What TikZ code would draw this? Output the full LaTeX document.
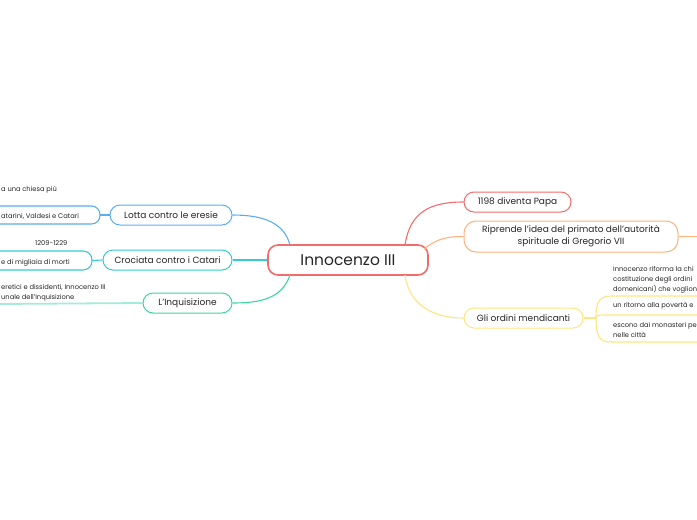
\documentclass[tikz,border=0pt]{standalone}
\usepackage{fontspec}
\setmainfont{Poppins}
\definecolor{cred}{HTML}{F46B6B}
\definecolor{corange}{HTML}{FFB37C}
\definecolor{cyellow}{HTML}{FFE680}
\definecolor{cblue}{HTML}{5AAEF0}
\definecolor{ccyan}{HTML}{35C9D9}
\definecolor{cgreen}{HTML}{3DD6A0}
\definecolor{cteal}{HTML}{A3EBDC}
\definecolor{ctext}{HTML}{262626}
\begin{document}
\begin{tikzpicture}[x=1pt,y=-1pt,
  central/.style={draw=cred,line width=1.6pt,fill=white,rounded corners=10pt,minimum width=160pt,minimum height=30pt,inner sep=0pt,font=\fontsize{15.5}{18}\selectfont,text=ctext},
  topic/.style={line width=1pt,fill=white,rounded corners=10pt,minimum height=20pt,inner sep=0pt,font=\fontsize{9}{12}\selectfont,text=ctext,align=center},
  sub/.style={anchor=west,inner sep=0pt,font=\fontsize{6.7}{10}\selectfont,text=ctext,align=left},
  conn/.style={line width=1.1pt}]
\useasboundingbox (0,0) rectangle (697,520);
\fill[white] (0,0) rectangle (697,520);
\clip (0,0) rectangle (697,520);
% nodes
\node[central] (c) at (348,260) {Innocenzo III};
\node[topic,draw=cred,minimum width=107pt] (p1) at (517.5,202) {1198 diventa Papa};
\node[topic,draw=corange,minimum width=214pt,minimum height=31pt,rounded corners=12pt] (p2) at (571,236.5) {Riprende l’idea del primato dell’autorità\\spirituale di Gregorio VII};
\node[topic,draw=cyellow,minimum width=119pt] (p3) at (523.5,318) {Gli ordini mendicanti};
\node[topic,draw=cblue,minimum width=122pt] (l1) at (171,215) {Lotta contro le eresie};
\node[topic,draw=ccyan,minimum width=129pt] (l2) at (167.5,260) {Crociata contro i Catari};
\node[topic,draw=cgreen,minimum width=89pt] (l3) at (187.5,303) {L’Inquisizione};
% free ends
\coordinate (p2e) at (697,236.5);
\coordinate (yb) at (596,318);
\coordinate (b1) at (100,215);
\coordinate (b2) at (92,260.5);
\coordinate (g1) at (0,304);
% connectors right
\draw[conn,cred] (405,245) .. controls (410,212) and (430,202) .. (p1.west);
\draw[conn,corange] (424,249) .. controls (438,238) and (448,236.5) .. (p2.west);
\draw[conn,corange] (p2.east) -- (p2e);
\draw[conn,cyellow] (405,275) .. controls (410,310) and (440,318) .. (p3.west);
\draw[conn,cyellow] (p3.east) -- (yb);
\draw[conn,cyellow] (yb) .. controls (596,300) and (600,296) .. (612,296) -- (697,296);
\draw[conn,cyellow] (yb) .. controls (597,315) .. (607,315) -- (697,315);
\draw[conn,cyellow] (yb) .. controls (596,338) and (600,342) .. (612,342) -- (697,342);
% connectors left
\draw[conn,cblue] (290,245) .. controls (284,222) and (262,215) .. (l1.east);
\draw[conn,cblue] (l1.west) -- (b1);
\draw[conn,cblue,rounded corners=8.5pt] (-5,206) -- (100,206) -- (100,224) -- (-5,224);
\draw[conn,ccyan] (c.west) -- (l2.east);
\draw[conn,ccyan] (l2.west) -- (b2);
\draw[conn,ccyan,rounded corners=9pt] (-5,251) -- (92,251) -- (92,270) -- (-5,270);
\draw[conn,cgreen] (290,275) .. controls (282,298) and (262,303) .. (l3.east);
\draw[line width=1.8pt,cteal] (l3.west) -- (g1);
% sub texts left
\node[sub] (t1) at (1,190) {a una chiesa più};
\node[sub] (t2) at (1,216) {atarini, Valdesi e Catari};
\node[sub] (t3) at (35,243) {1209-1229};
\node[sub] (t4) at (1,263) {e di migliaia di morti};
\node[sub] (t5) at (1,292.5) {eretici e dissidenti, Innocenzo III\\unale dell’Inquisizione};
% sub texts right
\node[sub] (r1) at (613,280) {Innocenzo riforma la chi\\costituzione degli ordini\\domenicani) che voglion};
\node[sub] (r2) at (613,306) {un ritorno alla povertà e};
\node[sub] (r3) at (613,330) {escono dai monasteri pe\\nelle città};
\end{tikzpicture}
\end{document}
